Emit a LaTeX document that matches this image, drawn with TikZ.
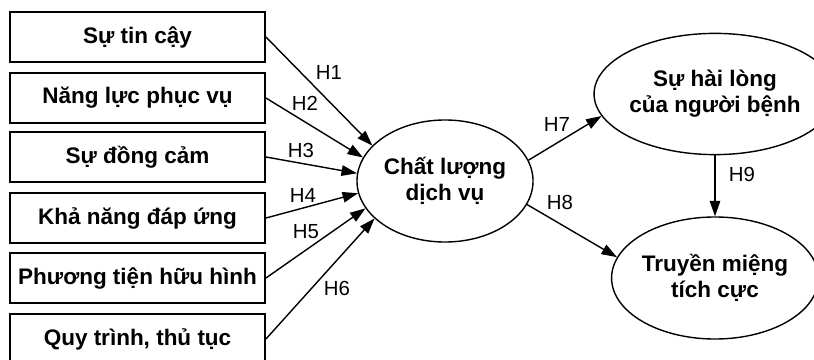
\documentclass[tikz,border=0pt]{standalone}
\usepackage{fontspec}
\setmainfont{Liberation Sans}
\usetikzlibrary{arrows.meta, shapes.geometric}

\begin{document}
\begin{tikzpicture}[x=0.025cm, y=-0.025cm,
    factor/.style={draw, line width=1.3pt, minimum width=6.375cm, minimum height=1.25cm,
        inner sep=2pt, font=\bfseries\fontsize{16}{18}\selectfont},
    construct/.style={draw, ellipse, line width=1pt, align=center, inner sep=0pt,
        font=\bfseries\fontsize{16}{18.5}\selectfont},
    hyp/.style={line width=1pt, -{Triangle[length=11pt, width=7.5pt]}},
    hlabel/.style={font=\fontsize{14.5}{16}\selectfont}]
    \clip (0,0) rectangle (814,360);

    % Define the factor boxes
    \node[factor] (tincay) at (137.5,37) {Sự tin cậy};
    \node[factor] (nangluc) at (137.5,98) {Năng lực phục vụ};
    \node[factor] (dongcam) at (137.5,157) {Sự đồng cảm};
    \node[factor] (dapung) at (137.5,218) {Khả năng đáp ứng};
    \node[factor] (phuongtien) at (137.5,278) {Phương tiện hữu hình};
    \node[factor] (quytrinh) at (137.5,339) {Quy trình, thủ tục};

    % Define the constructs
    \node[construct, minimum width=4.4cm, minimum height=3.05cm] (chatluong) at (445,181) {Chất lượng\\dịch vụ};
    \node[construct, minimum width=4.95cm, minimum height=3.03cm] (hailong) at (715,94) {Sự hài lòng\\của người bệnh};
    \node[construct, minimum width=4.95cm, minimum height=3.05cm] (truyenmieng) at (715,278) {Truyền miệng\\tích cực};

    % Draw the hypotheses
    \draw[hyp] (tincay.east) -- (chatluong.154);
    \draw[hyp] (nangluc.east) -- (chatluong.164);
    \draw[hyp] (dongcam.east) -- (chatluong.175);
    \draw[hyp] (dapung.east) -- (chatluong.188);
    \draw[hyp] (phuongtien.east) -- (chatluong.199);
    \draw[hyp] (quytrinh.east) -- (chatluong.208);
    \draw[hyp] (chatluong.14) -- (hailong.191);
    \draw[hyp] (chatluong.-16) -- (truyenmieng.168);
    \draw[hyp] (hailong.south) -- (truyenmieng.north);

    % Place the hypothesis labels
    \node[hlabel] (h1) at (329,72) {H1};
    \node[hlabel] (h2) at (305,103) {H2};
    \node[hlabel] (h3) at (301,150) {H3};
    \node[hlabel] (h4) at (303,195) {H4};
    \node[hlabel] (h5) at (306,232) {H5};
    \node[hlabel] (h6) at (337,288) {H6};
    \node[hlabel] (h7) at (557,124) {H7};
    \node[hlabel] (h8) at (560,202) {H8};
    \node[hlabel] (h9) at (742,174) {H9};

\end{tikzpicture}
\end{document}
